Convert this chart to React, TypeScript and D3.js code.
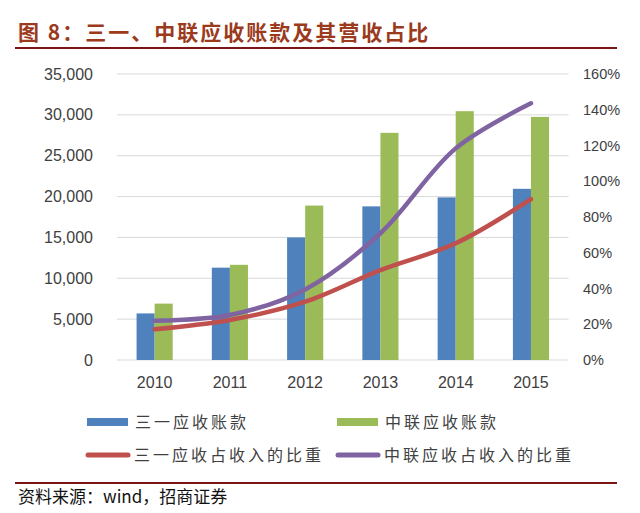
import * as d3 from 'd3';

// chart data
const years = ['2010', '2011', '2012', '2013', '2014', '2015'];
const sanyReceivables = [5700, 11300, 15000, 18800, 19900, 20950];
const zoomlionReceivables = [6900, 11650, 18900, 27800, 30450, 29750];
const sanyRatio = [0.172, 0.224, 0.326, 0.503, 0.653, 0.9];
const zoomlionRatio = [0.22, 0.252, 0.395, 0.709, 1.184, 1.436];
const leftTicks = [0, 5000, 10000, 15000, 20000, 25000, 30000, 35000];
const rightTicks = [0, 0.2, 0.4, 0.6, 0.8, 1.0, 1.2, 1.4, 1.6];

const W = 640;
const H = 513;
const PLOT = { left: 117, right: 568.6, top: 74, bottom: 360 };

const COLORS = {
  blue: '#4F81BD',
  green: '#9BBB59',
  red: '#C0504D',
  purple: '#8064A2',
  grid: '#D9D9D9',
  text: '#404040',
  title: '#9B3A1C',
  rule: '#7A1616',
};

const CJK = '"Noto Sans CJK SC", "Noto Sans", sans-serif';
const LATIN = '"Liberation Sans", Arial, sans-serif';

export default function App() {
  const x = d3.scaleBand<string>().domain(years).range([PLOT.left, PLOT.right]).padding(0);
  const yLeft = d3.scaleLinear().domain([0, 35000]).range([PLOT.bottom, PLOT.top]);
  const yRight = d3.scaleLinear().domain([0, 1.6]).range([PLOT.bottom, PLOT.top]);

  const barW = x.step() * 0.24;
  const center = (yr: string) => (x(yr) as number) + x.bandwidth() / 2;
  const fmt = d3.format(',');

  const lineGen = d3
    .line<number>()
    .x((_, i) => center(years[i]))
    .y((d) => yRight(d))
    .curve(d3.curveCatmullRom.alpha(0.5));

  const legend = [
    { label: '三一应收账款', color: COLORS.blue, type: 'bar', x: 87, y: 422 },
    { label: '中联应收账款', color: COLORS.green, type: 'bar', x: 337, y: 422 },
    { label: '三一应收占收入的比重', color: COLORS.red, type: 'line', x: 86, y: 455 },
    { label: '中联应收占收入的比重', color: COLORS.purple, type: 'line', x: 336, y: 455 },
  ];

  return (
    <svg width={W} height={H} style={{ position: 'absolute', left: 0, top: 0, background: '#fff' }}>
      {/* title */}
      <text x={18} y={40} fill={COLORS.title} fontFamily={CJK} fontWeight="bold" fontSize={21} letterSpacing={2}>
        图 8：三一、中联应收账款及其营收占比
      </text>
      <line x1={15} x2={617} y1={48} y2={48} stroke={COLORS.rule} strokeWidth={2} />

      {/* grid lines + left ticks */}
      {leftTicks.map((t) => (
        <g key={t}>
          <line x1={PLOT.left} x2={PLOT.right} y1={yLeft(t)} y2={yLeft(t)} stroke={COLORS.grid} strokeWidth={1} />
          <text x={93} y={yLeft(t)} dy="0.35em" textAnchor="end" fontFamily={LATIN} fontSize={16} fill={COLORS.text}>
            {fmt(t)}
          </text>
        </g>
      ))}

      {/* right ticks */}
      {rightTicks.map((t) => (
        <text key={t} x={583} y={yRight(t)} dy="0.35em" fontFamily={LATIN} fontSize={14.5} fill={COLORS.text}>
          {Math.round(t * 100)}%
        </text>
      ))}

      {/* bars */}
      {years.map((yr, i) => (
        <g key={yr}>
          <rect
            x={center(yr) - barW}
            width={barW}
            y={yLeft(sanyReceivables[i])}
            height={PLOT.bottom - yLeft(sanyReceivables[i])}
            fill={COLORS.blue}
          />
          <rect
            x={center(yr)}
            width={barW}
            y={yLeft(zoomlionReceivables[i])}
            height={PLOT.bottom - yLeft(zoomlionReceivables[i])}
            fill={COLORS.green}
          />
          <text x={center(yr)} y={382} dy="0.35em" textAnchor="middle" fontFamily={LATIN} fontSize={16} fill={COLORS.text}>
            {yr}
          </text>
        </g>
      ))}

      {/* ratio lines */}
      <path d={lineGen(sanyRatio) || ''} fill="none" stroke={COLORS.red} strokeWidth={4.5} strokeLinecap="round" strokeLinejoin="round" />
      <path d={lineGen(zoomlionRatio) || ''} fill="none" stroke={COLORS.purple} strokeWidth={4.5} strokeLinecap="round" strokeLinejoin="round" />

      {/* legend */}
      {legend.map((l) => (
        <g key={l.label}>
          {l.type === 'bar' ? (
            <rect x={l.x} y={l.y - 4} width={41} height={8} fill={l.color} />
          ) : (
            <line x1={l.x + 2} x2={l.x + 42} y1={l.y} y2={l.y} stroke={l.color} strokeWidth={5} strokeLinecap="round" />
          )}
          <text x={l.x + 48} y={l.y} dy="0.35em" fontFamily={CJK} fontSize={16} letterSpacing={3} fill={COLORS.text}>
            {l.label}
          </text>
        </g>
      ))}

      {/* footer */}
      <line x1={15} x2={617} y1={483} y2={483} stroke={COLORS.rule} strokeWidth={2} />
      <text x={18} y={497} dy="0.35em" fontFamily={CJK} fontSize={17} fill="#111">
        资料来源：wind，招商证券
      </text>
    </svg>
  );
}
